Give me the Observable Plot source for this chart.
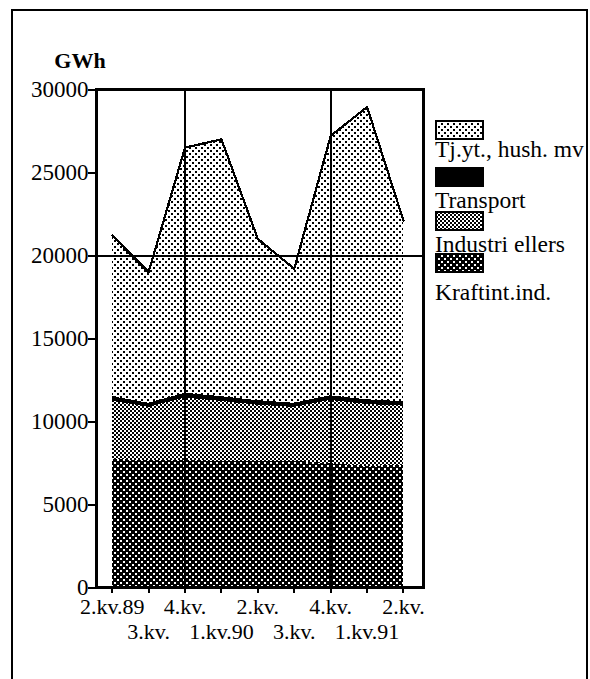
<!DOCTYPE html>
<html><head><meta charset="utf-8">
<script src="https://cdn.jsdelivr.net/npm/d3@7"></script>
<script src="https://cdn.jsdelivr.net/npm/@observablehq/plot@0.6"></script>
<style>
body{margin:0;background:#fff}
#chart{position:relative;width:590px;height:679px;overflow:hidden;background:#fff}
</style>
</head><body><div id="chart"></div>
<script>
// ---- data (GWh per quarter) ----
const quarters = ["2.kv.89","3.kv.","4.kv.","1.kv.90","2.kv.","3.kv.","4.kv.","1.kv.91","2.kv."];
const kraftint  = [7700, 7650, 7650, 7600, 7600, 7600, 7450, 7300, 7350];
const industri  = [3540, 3200, 3760, 3610, 3380, 3250, 3820, 3720, 3580];
const transport = [260, 250, 290, 290, 270, 250, 280, 280, 270];
const tjyt      = [9700, 7900, 14800, 15500, 9750, 8100, 15650, 17650, 10900];
const seriesNames = ["Kraftint.ind.", "Industri ellers", "Transport", "Tj.yt., hush. mv"];
const legendOrder = ["Tj.yt., hush. mv", "Transport", "Industri ellers", "Kraftint.ind."];
const yTicks = [0, 5000, 10000, 15000, 20000, 25000, 30000];
const gridQuarters = [2, 6];
const gridValues = [20000];
const unitLabel = "GWh";

const seriesValues = [kraftint, industri, transport, tjyt];
const fills = ["url(#pDark)", "url(#pMid)", "#000", "url(#pLight)"];

// pick an installed serif face
function pickSerif() {
  const cands = ["Liberation Serif", "Times New Roman", "Tinos", "DejaVu Serif", "Noto Serif", "FreeSerif", "Times"];
  const ctx = document.createElement("canvas").getContext("2d");
  const s = "Tj.yt., hush. mv 2.kv.89 WMil";
  ctx.font = "40px monospace"; const mono = ctx.measureText(s).width;
  for (const f of cands) {
    ctx.font = `40px "${f}", monospace`;
    if (ctx.measureText(s).width !== mono) return `"${f}", serif`;
  }
  return "serif";
}
const FONT = pickSerif();

const rows = [];
seriesNames.forEach((s, k) => quarters.forEach((q, i) => rows.push({i, series: s, value: seriesValues[k][i]})));
const totals = quarters.map((q, i) => ({i, total: kraftint[i] + industri[i] + transport[i] + tjyt[i]}));
const idx = quarters.map((q, i) => i);
const evenIdx = idx.filter(i => i % 2 === 0);
const oddIdx = idx.filter(i => i % 2 === 1);

const chart = Plot.plot({
  width: 590, height: 679,
  marginLeft: 96, marginRight: 167, marginTop: 89, marginBottom: 92,
  x: {domain: [-0.431, 8.55], label: null},
  y: {domain: [0, 30000], label: null},
  color: {type: "ordinal", domain: seriesNames, range: fills},
  style: {background: "#fff", color: "#000", fontFamily: FONT, fontSize: "20px"},
  marks: [
    Plot.areaY(rows, {x: "i", y: "value", z: "series", fill: "series"}),
    Plot.lineY(totals, {x: "i", y: "total", stroke: "#000", strokeWidth: 2.2}),
    Plot.ruleX(gridQuarters, {stroke: "#000", strokeWidth: 2.2}),
    Plot.ruleY(gridValues, {stroke: "#000", strokeWidth: 2}),
    Plot.frame({stroke: "#000", strokeWidth: 2.2}),
    Plot.axisY(yTicks, {label: null, tickSize: 8, tickPadding: 0, strokeWidth: 2, tickFormat: d => String(d), fontSize: 23, fontFamily: FONT}),
    Plot.axisX(evenIdx, {label: null, tickSize: 6, tickPadding: 5, strokeWidth: 2, tickFormat: i => quarters[i], fontSize: 22, fontFamily: FONT}),
    Plot.axisX(oddIdx, {label: null, tickSize: 6, tickPadding: 30, strokeWidth: 2, tickFormat: i => quarters[i], fontSize: 22, fontFamily: FONT})
  ]
});
document.getElementById("chart").appendChild(chart);

const svg = d3.select(chart);
const defs = svg.insert("defs", ":first-child");
function pat(id, size, bg, fg, cells, d) {
  const p = defs.append("pattern").attr("id", id).attr("patternUnits", "userSpaceOnUse")
    .attr("width", size).attr("height", size);
  p.append("rect").attr("width", size).attr("height", size).attr("fill", bg);
  cells.forEach(([x, y]) => p.append("rect").attr("x", x).attr("y", y).attr("width", d).attr("height", d).attr("fill", fg));
}
pat("pLight", 6, "#fff", "#000", [[0, 0], [3, 3]], 2);
pat("pMid", 4, "#fff", "#000", [[0, 0], [2, 2]], 2);
pat("pDark", 6, "#000", "#fff", [[0, 0], [3, 3]], 2);
svg.selectAll("rect, line, path").attr("shape-rendering", "crispEdges");

// unit label
svg.append("text").attr("x", 80).attr("y", 68).attr("text-anchor", "middle")
  .attr("font-weight", "bold").attr("font-size", 22).attr("fill", "#000").text(unitLabel);

// legend
const lg = svg.append("g").attr("text-anchor", "start");
const swTop = [121, 168, 212, 254];
const txtBase = [157, 208, 252, 300];
legendOrder.forEach((s, k) => {
  const f = fills[seriesNames.indexOf(s)];
  lg.append("rect").attr("x", 436).attr("y", swTop[k]).attr("width", 47).attr("height", 18)
    .attr("fill", f).attr("stroke", "#000").attr("stroke-width", 2);
  lg.append("text").attr("x", 435).attr("y", txtBase[k]).attr("font-size", 23.5).attr("fill", "#000").text(s);
});

svg.selectAll("text").attr("font-family", FONT).style("font-family", FONT);

// outer border
svg.append("rect").attr("x", 12).attr("y", 10).attr("width", 575).attr("height", 700)
  .attr("fill", "none").attr("stroke", "#000").attr("stroke-width", 2);
</script>
</body></html>
